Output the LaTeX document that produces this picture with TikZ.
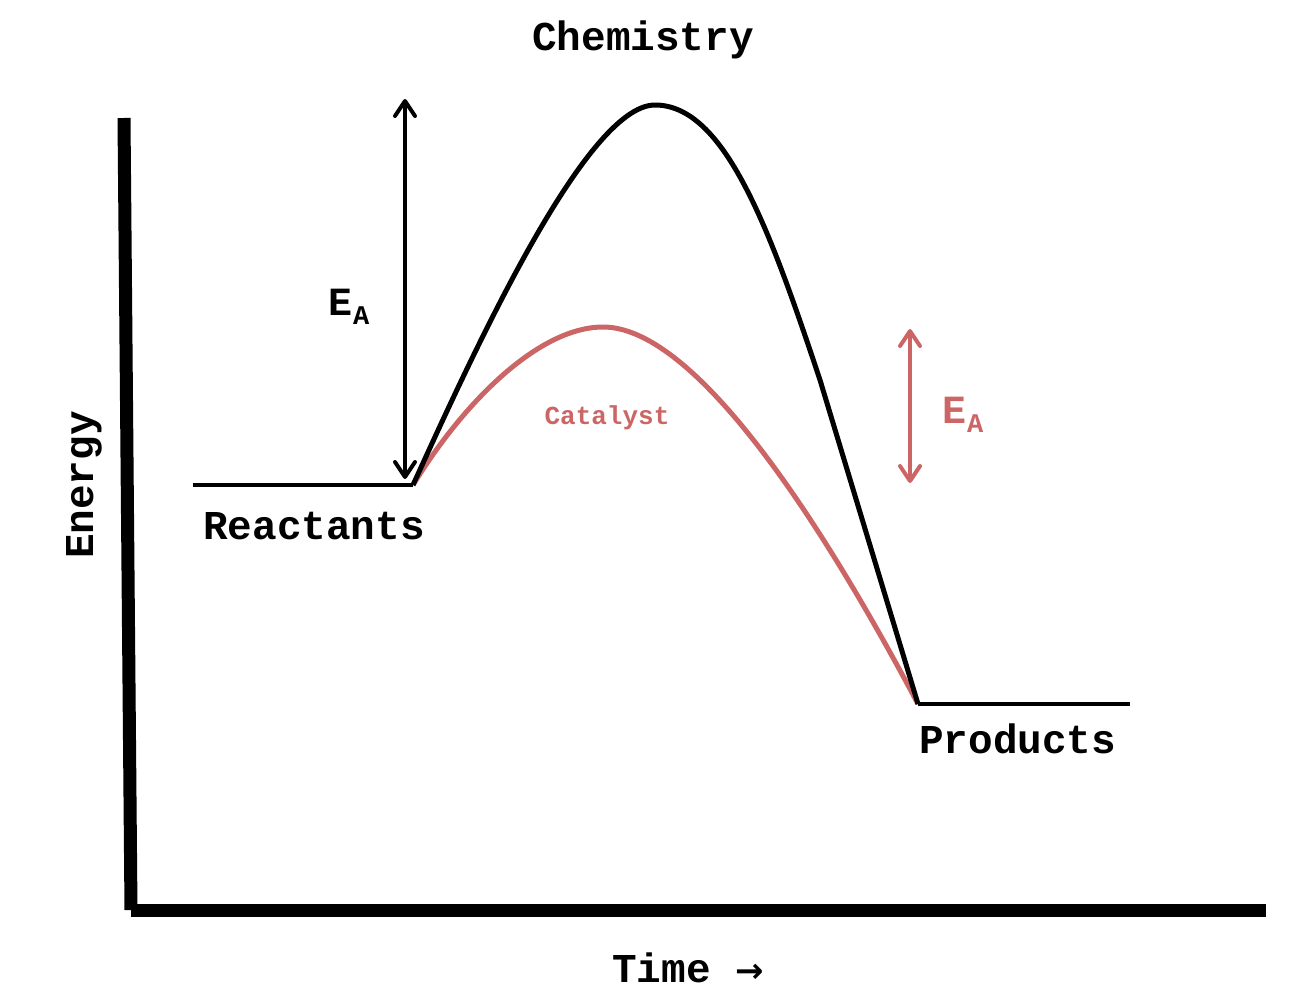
\documentclass[tikz,border=0pt]{standalone}
\usepackage{fontspec}
\setmonofont{Liberation Mono}
\newfontfamily\arrowfont{DejaVu Sans}
\usetikzlibrary{arrows.meta}
\definecolor{catred}{RGB}{204,102,102}
\tikzset{
  lbl/.style={font=\ttfamily\bfseries\fontsize{41}{41}\selectfont, inner sep=0pt},
  level/.style={line width=4pt},
  curve/.style={line width=5pt, line join=round},
  shaft/.style={line width=3.5pt},
  chev/.style={line width=4pt, line cap=round, line join=round}
}
\begin{document}
\begin{tikzpicture}[x=1pt,y=-1pt]
\useasboundingbox (0,0) rectangle (1316,990);
% axes
\coordinate (ytop) at (124,118);
\coordinate (origin) at (131,910);
\coordinate (xend) at (1266,910);
\draw[line width=13pt] (ytop) -- (origin);
\draw[line width=13pt] (origin) -- (xend);
% levels
\coordinate (rl) at (193,485);
\coordinate (r) at (413,485);
\coordinate (p) at (918,704);
\coordinate (pr) at (1130,704);
\draw[level] (rl) -- (r);
\draw[level] (p) -- (pr);
% catalyst curve
\draw[curve, catred] (r) .. controls (465,400) and (540,327) .. (603,327)
   .. controls (690,327) and (810,500) .. (p);
% uncatalysed curve
\draw[curve] (r) .. controls (470,360) and (585,105) .. (655,105)
   .. controls (725,105) and (770,230) .. (820,380) -- (p);
% black double arrow
\coordinate (a1t) at (405,101);
\coordinate (a1b) at (405,477);
\draw[shaft] (a1b) -- (a1t);
\draw[chev] ([shift={(-10,15)}]a1t) -- (a1t) -- ([shift={(10,15)}]a1t);
\draw[chev] ([shift={(-10,-15)}]a1b) -- (a1b) -- ([shift={(10,-15)}]a1b);
% red double arrow
\coordinate (a2t) at (910,331);
\coordinate (a2b) at (910,481);
\draw[shaft, catred] (a2b) -- (a2t);
\draw[chev, catred] ([shift={(-10,15)}]a2t) -- (a2t) -- ([shift={(10,15)}]a2t);
\draw[chev, catred] ([shift={(-10,-15)}]a2b) -- (a2b) -- ([shift={(10,-15)}]a2b);
% labels
\node[lbl, anchor=base] (title) at (643,51) {Chemistry};
\node[lbl, anchor=base west] (react) at (203,539) {Reactants};
\node[lbl, anchor=base west] (prod) at (919,753) {Products};
\node[lbl, anchor=base west] (time) at (612,982) {Time {\arrowfont\fontsize{34}{34}\selectfont →}};
\node[lbl, anchor=base, rotate=90] (energy) at (93,485) {Energy};
\node[anchor=base west, inner sep=0pt] (ea1) at (328,315) {\ttfamily\bfseries\fontsize{40}{40}\selectfont E\kern1pt\raisebox{-9pt}{\fontsize{27}{27}\selectfont A}};
\node[anchor=base west, inner sep=0pt, text=catred] (ea2) at (942,423) {\ttfamily\bfseries\fontsize{40}{40}\selectfont E\kern1pt\raisebox{-9pt}{\fontsize{27}{27}\selectfont A}};
\node[font=\ttfamily\bfseries\fontsize{26}{26}\selectfont, text=catred, anchor=base, inner sep=0pt] (cat) at (607,424) {Catalyst};
\end{tikzpicture}
\end{document}
